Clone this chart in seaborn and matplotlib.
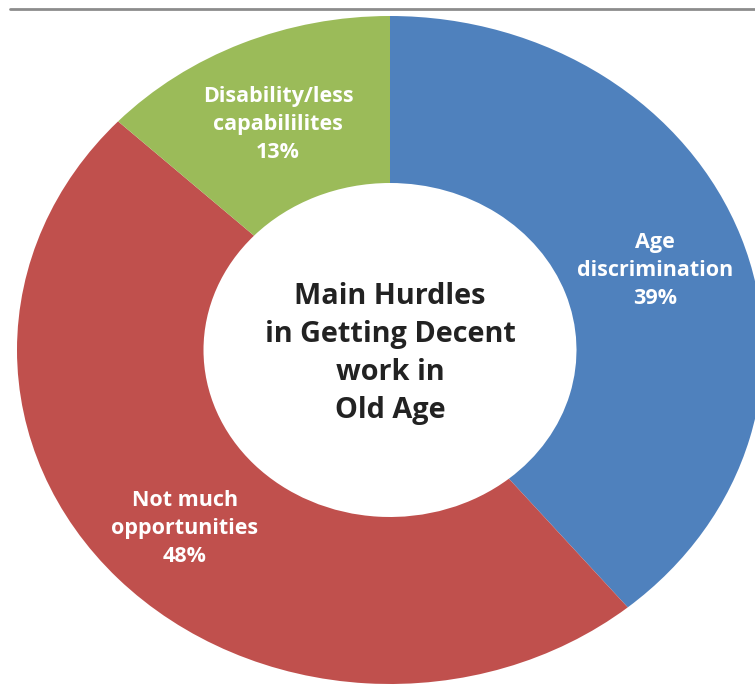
import matplotlib
matplotlib.use('Agg')
import matplotlib.pyplot as plt
from matplotlib.lines import Line2D
from matplotlib.transforms import offset_copy
import seaborn as sns

# dados do gráfico
categorias = ['Age\ndiscrimination', 'Not much\nopportunities', 'Disability/less\ncapabililites']
percentuais = [39, 48, 13]
cores = ['#4F81BD', '#C0504D', '#9BBB59']
titulo_centro = 'Main Hurdles\nin Getting Decent\nwork in\nOld Age'

sns.set_theme(style='white')
plt.rcParams['font.family'] = ['Open Sans', 'DejaVu Sans']

fig = plt.figure(figsize=(7.55, 6.86), dpi=100)
ax = fig.add_axes([0, 0, 1, 1])

rotulos = [f'{c}\n{p}%' for c, p in zip(categorias, percentuais)]
fatias, textos = ax.pie(percentuais, labels=rotulos, colors=sns.color_palette(cores),
                        startangle=90, counterclock=False, radius=1.0,
                        labeldistance=0.755,
                        wedgeprops=dict(width=0.5, linewidth=0),
                        textprops=dict(color='white', fontweight='bold', fontsize=15.5,
                                       ha='center', va='center', linespacing=1.42))

# descer um pouco os rótulos (centro visual do bloco de texto)
for t in textos:
    t.set_transform(offset_copy(ax.transData, fig=fig, x=0, y=-6, units='dots'))

ax.text(0, -0.01, titulo_centro, ha='center', va='center', fontsize=20.8,
        fontweight='bold', color='#222222', linespacing=1.41)

# donut achatado como no original (eixo sem aspecto igual)
ax.set_aspect('auto')
ax.set_xlim(-390 / 373, 365 / 373)
ax.set_ylim(-336 / 334, 350 / 334)
ax.axis('off')

# linha cinza no topo
fig.add_artist(Line2D([10 / 755, 1], [1 - 9 / 686] * 2, color='#8c8c8c', lw=2,
                      transform=fig.transFigure))

plt.savefig('out.png', dpi=100, facecolor='white')
